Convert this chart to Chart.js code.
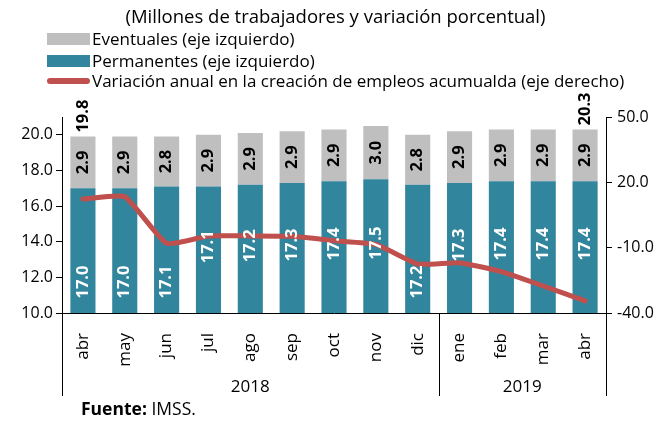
<!DOCTYPE html>
<html>
<head>
<meta charset="utf-8">
<script src="https://cdn.jsdelivr.net/npm/chart.js@4"></script>
<style>
  body { margin: 0; background: #fff; }
  #wrap { position: relative; width: 667px; height: 422px; font-family: "Open Sans", Lato, sans-serif; color: #000; }
  #wrap canvas { position: absolute; left: 0; top: 0; }
  .txt { position: absolute; white-space: nowrap; font-size: 17px; line-height: 20px; }
  .sw { position: absolute; left: 47px; width: 43px; }
</style>
</head>
<body>
<div id="wrap">
  <canvas id="chart" width="667" height="422"></canvas>
  <div class="txt" style="left:0;width:671px;text-align:center;top:6px;font-size:18.5px;">(Millones de trabajadores y variación porcentual)</div>
  <div class="sw" style="top:33px;height:12px;background:#BFBFBF;"></div>
  <div class="txt" style="left:92px;top:29px;">Eventuales (eje izquierdo)</div>
  <div class="sw" style="top:55px;height:12px;background:#31859C;"></div>
  <div class="txt" style="left:92px;top:51px;">Permanentes (eje izquierdo)</div>
  <div class="sw" style="top:78px;height:6px;border-radius:3px;background:#C0504D;"></div>
  <div class="txt" style="left:92px;top:71px;">Variación anual en la creación de empleos acumualda (eje derecho)</div>
  <div class="txt" style="left:81px;top:398px;font-size:17.5px;"><b>Fuente:</b> IMSS.</div>
</div>
<script>
document.addEventListener('DOMContentLoaded', () => {
    const months = ['abr', 'may', 'jun', 'jul', 'ago', 'sep', 'oct', 'nov', 'dic', 'ene', 'feb', 'mar', 'abr'];
    const years = ['2018', '2019'];
    const yearSpans = [9, 4]; // months in each year group

    const permanentes = [17.0, 17.0, 17.1, 17.1, 17.2, 17.3, 17.4, 17.5, 17.2, 17.3, 17.4, 17.4, 17.4];
    const eventuales = [2.9, 2.9, 2.8, 2.9, 2.9, 2.9, 2.9, 3.0, 2.8, 2.9, 2.9, 2.9, 2.9];
    const totales = [19.8, null, null, null, null, null, null, null, null, null, null, null, 20.3];
    const variacion = [12.3, 13.4, -8.0, -4.6, -4.6, -4.8, -6.8, -8.5, -17.5, -16.9, -21.0, -27.6, -34.4];

    const leftTicks = [10, 12, 14, 16, 18, 20];
    const rightTicks = [-40, -10, 20, 50];

    // bars whose white label sits near the base instead of the middle
    const lowLabels = [0, 1, 2, 8];

    const FONT = '"Open Sans", Lato, sans-serif';

    const barLabels = {
        id: 'barLabels',
        afterDatasetsDraw(chart) {
            const ctx = chart.ctx;
            const bottom = chart.chartArea.bottom;
            const permBars = chart.getDatasetMeta(0).data;
            const evenBars = chart.getDatasetMeta(1).data;
            const rotText = (txt, x, y, align, color) => {
                ctx.save();
                ctx.translate(x, y);
                ctx.rotate(-Math.PI / 2);
                ctx.textAlign = align;
                ctx.textBaseline = 'middle';
                ctx.fillStyle = color;
                ctx.fillText(txt, 0, 0);
                ctx.restore();
            };
            ctx.save();
            ctx.font = 'bold 16.5px ' + FONT;
            permBars.forEach((bar, i) => {
                const base = Math.min(bar.base, bottom);
                const y = lowLabels.includes(i) ? base - 31 : (bar.y + base) / 2 - 3;
                rotText(permanentes[i].toFixed(1), bar.x, y, 'center', '#fff');
            });
            evenBars.forEach((bar, i) => {
                rotText(eventuales[i].toFixed(1), bar.x, (bar.y + bar.base) / 2, 'center', '#000');
                if (totales[i] !== null) {
                    rotText(totales[i].toFixed(1), bar.x, bar.y - 4, 'left', '#000');
                }
            });
            ctx.restore();
        }
    };

    const yearGroups = {
        id: 'yearGroups',
        afterDraw(chart) {
            const ctx = chart.ctx;
            const xs = chart.scales.x;
            const area = chart.chartArea;
            const half = (xs.getPixelForValue(1) - xs.getPixelForValue(0)) / 2;
            ctx.save();
            ctx.strokeStyle = '#000';
            ctx.lineWidth = 1;
            ctx.fillStyle = '#000';
            ctx.font = '17px ' + FONT;
            ctx.textAlign = 'center';
            ctx.textBaseline = 'middle';
            let start = 0;
            const edges = [area.left];
            yearSpans.forEach((n, k) => {
                const x0 = xs.getPixelForValue(start) - half;
                const x1 = xs.getPixelForValue(start + n - 1) + half;
                edges.push(x1);
                ctx.fillText(years[k], (x0 + x1) / 2, 387);
                start += n;
            });
            edges.forEach(x => {
                const px = Math.round(x) + 0.5;
                ctx.beginPath();
                ctx.moveTo(px, area.bottom);
                ctx.lineTo(px, 396);
                ctx.stroke();
            });
            ctx.restore();
        }
    };

    const ctx = document.getElementById('chart').getContext('2d');
    new Chart(ctx, {
        data: {
            labels: months,
            datasets: [
                {
                    type: 'bar',
                    label: 'Permanentes (eje izquierdo)',
                    data: permanentes,
                    backgroundColor: '#31859C',
                    yAxisID: 'y',
                    stack: 'emp',
                    barPercentage: 0.6,
                    categoryPercentage: 1.0,
                    order: 2
                },
                {
                    type: 'bar',
                    label: 'Eventuales (eje izquierdo)',
                    data: eventuales,
                    backgroundColor: '#BFBFBF',
                    yAxisID: 'y',
                    stack: 'emp',
                    barPercentage: 0.6,
                    categoryPercentage: 1.0,
                    order: 2
                },
                {
                    type: 'line',
                    label: 'Variación anual en la creación de empleos acumualda (eje derecho)',
                    data: variacion,
                    borderColor: '#C0504D',
                    borderWidth: 5,
                    pointRadius: 0,
                    tension: 0.15,
                    borderJoinStyle: 'round',
                    borderCapStyle: 'round',
                    yAxisID: 'y1',
                    order: 1
                }
            ]
        },
        options: {
            responsive: false,
            animation: false,
            layout: { padding: { top: 117, left: 0, right: 0, bottom: 0 } },
            plugins: {
                legend: { display: false },
                tooltip: { enabled: false }
            },
            scales: {
                x: {
                    stacked: true,
                    grid: { display: false },
                    border: { display: true, color: '#000', width: 1 },
                    ticks: {
                        minRotation: 90, maxRotation: 90, padding: 12,
                        color: '#000', font: { family: FONT, size: 17 }
                    },
                    afterFit: s => { s.height = 109; }
                },
                y: {
                    stacked: true,
                    position: 'left',
                    min: 10, max: 21,
                    afterBuildTicks: s => { s.ticks = leftTicks.map(v => ({ value: v })); },
                    grid: { drawOnChartArea: false, tickLength: 6, color: '#000' },
                    border: { display: true, color: '#000', width: 1 },
                    ticks: {
                        padding: 3, color: '#000', font: { family: FONT, size: 16 },
                        callback: v => Number(v).toFixed(1)
                    },
                    afterFit: s => { s.width = 62; }
                },
                y1: {
                    position: 'right',
                    min: -40, max: 50,
                    afterBuildTicks: s => { s.ticks = rightTicks.map(v => ({ value: v })); },
                    grid: { drawOnChartArea: false, tickLength: 6, color: '#000' },
                    border: { display: true, color: '#000', width: 1 },
                    ticks: {
                        padding: 5, color: '#000', font: { family: FONT, size: 16 },
                        callback: v => Number(v).toFixed(1)
                    },
                    afterFit: s => { s.width = 61; }
                }
            }
        },
        plugins: [barLabels, yearGroups]
    });
});
</script>
</body>
</html>
